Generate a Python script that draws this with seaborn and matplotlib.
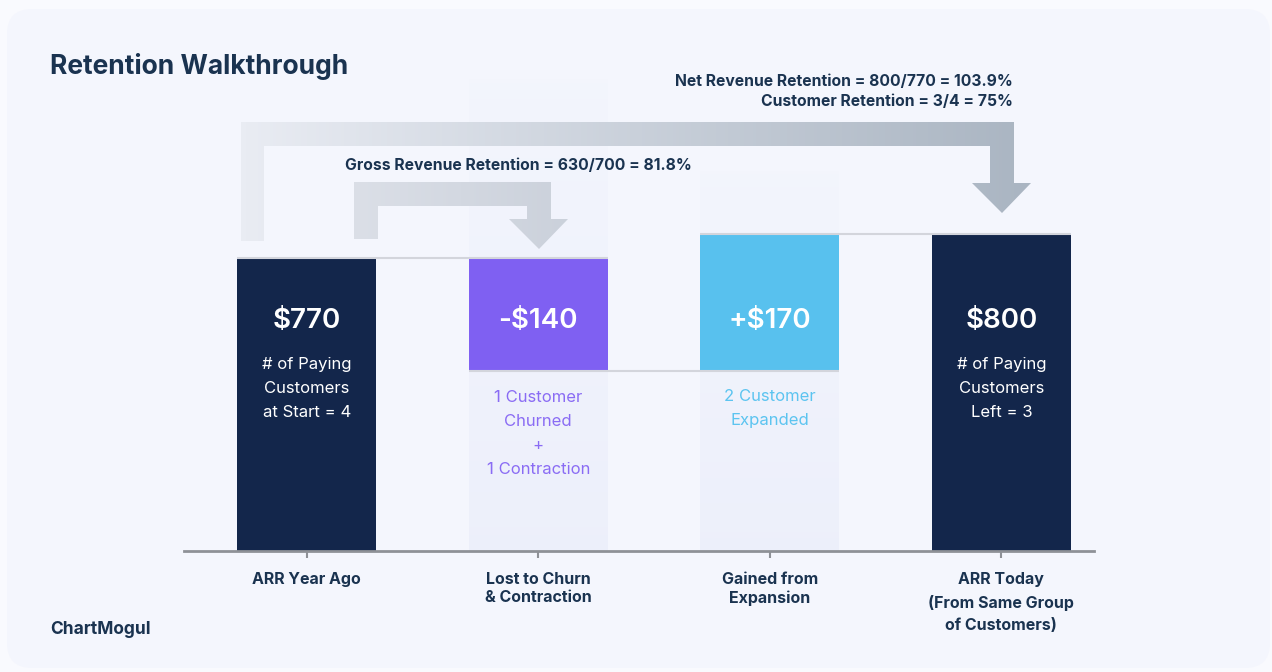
import numpy as np
import matplotlib
matplotlib.use("Agg")
import matplotlib.pyplot as plt
from matplotlib.colors import LinearSegmentedColormap, to_rgb
from matplotlib.patches import FancyBboxPatch, Polygon
import seaborn as sns

# data
categories = ["ARR Year Ago", "Lost to Churn\n& Contraction", "Gained from\nExpansion",
              "ARR Today\n(From Same Group\nof Customers)"]
arr_start = 770
changes = [-140, 170]
arr_end = 800
value_labels = ["$770", "-$140", "+$170", "$800"]
sub_labels = ["# of Paying\nCustomers\nat Start = 4",
              "1 Customer\nChurned\n+\n1 Contraction",
              "2 Customer\nExpanded",
              "# of Paying\nCustomers\nLeft = 3"]
net_lines = ["Net Revenue Retention = 800/770 = 103.9%", "Customer Retention = 3/4 = 75%"]
gross_line = "Gross Revenue Retention = 630/700 = 81.8%"

# waterfall geometry from the values
after_churn = arr_start + changes[0]
bottoms = [0, after_churn, after_churn, 0]
heights = [arr_start, -changes[0], changes[1], arr_end]

bar_colors = ["#13264B", "#7F60F2", "#58C1EE", "#13264B"]
sub_colors = ["white", "#8A6CF4", "#5CC4F0", "white"]
dark = "#1A3350"

sns.set_style("white")
plt.rcParams["font.family"] = ["Inter", "DejaVu Sans"]

W, H = 1272, 672
fig = plt.figure(figsize=(12.72, 6.72), dpi=100)
fig.patch.set_facecolor("#F9FAFE")

# card background
bg = fig.add_axes([0, 0, 1, 1], zorder=0)
bg.set_xlim(0, W)
bg.set_ylim(H, 0)
bg.axis("off")
bg.add_patch(FancyBboxPatch((32, 34), 1213, 609, boxstyle="round,pad=25",
                            fc="#F4F6FD", ec="none"))

# main chart
y_lo, y_hi = 406, 1090
ax = fig.add_axes([184 / W, (H - 551) / H, 910 / W, 551 / H], zorder=1)
ax.patch.set_alpha(0)

# faint ghost columns behind the change bars
ghost_tops = {1: 991, 2: 877}
for i, top in ghost_tops.items():
    n = 120
    rgba = np.zeros((n, 1, 4))
    rgba[..., :3] = to_rgb("#E4E8F8")
    rgba[..., 3] = np.linspace(0.06, 0.45, n)[:, None]
    ax.imshow(rgba, extent=(i - 0.3, i + 0.3, y_lo, top), aspect="auto", zorder=0.5)

sns.barplot(x=categories, y=heights, bottom=bottoms, width=0.6, color=bar_colors[0],
            saturation=1, ax=ax, zorder=2)
for patch, c in zip(ax.patches, bar_colors):
    patch.set_facecolor(c)
    patch.set_edgecolor("none")

# connector lines
levels = [arr_start, after_churn, arr_end]
for k, lvl in enumerate(levels):
    ax.hlines(lvl, k - 0.3, k + 1.3, color="#D3D5DC", lw=1.5, zorder=3)

for i in range(4):
    ax.text(i, 691, value_labels[i], ha="center", va="center", color="white",
            fontsize=20, weight="semibold", zorder=4)
sub_y = [608, 552, 583, 608]
for i in range(4):
    ax.text(i, sub_y[i], sub_labels[i], ha="center", va="center", color=sub_colors[i],
            fontsize=12, linespacing=1.75, zorder=4)

ax.set_xlim(-0.53, 3.40)
ax.set_ylim(y_lo, y_hi)
ax.set_yticks([])
ax.set_xlabel("")
ax.set_ylabel("")
for s in ["left", "right", "top"]:
    ax.spines[s].set_visible(False)
ax.spines["bottom"].set_color("#8E9197")
ax.spines["bottom"].set_linewidth(2)
ax.tick_params(axis="x", length=5, width=1.5, color="#8E9197", pad=10,
               labelsize=11.5, labelcolor=dark, bottom=True)
for lab in ax.get_xticklabels():
    lab.set_fontweight("bold")
    lab.set_linespacing(1.62 if lab.get_text().count("\n") > 1 else 1.3)

# overlay: arrows and annotations
fg = fig.add_axes([0, 0, 1, 1], zorder=3)
fg.patch.set_alpha(0)
fg.axis("off")


def grad_arrow(axis, pts, c0, c1):
    poly = Polygon(pts, closed=True, fc="none", ec="none")
    axis.add_patch(poly)
    xs = [p[0] for p in pts]
    ys = [p[1] for p in pts]
    cmap = LinearSegmentedColormap.from_list("g", [c0, c1])
    im = axis.imshow(np.linspace(0, 1, 256).reshape(1, -1), cmap=cmap,
                     extent=(min(xs), max(xs), max(ys), min(ys)),
                     aspect="auto", interpolation="bilinear")
    im.set_clip_path(poly)


big = [(241, 241), (241, 122), (1014, 122), (1014, 183), (1031, 183), (1002, 213),
       (972, 183), (990, 183), (990, 146), (264, 146), (264, 241)]
small = [(354, 239), (354, 182), (551, 182), (551, 219), (568, 219), (539, 249),
         (509, 219), (527, 219), (527, 206), (378, 206), (378, 239)]
grad_arrow(fg, big, "#E9ECF3", "#AAB5C2")
grad_arrow(fg, small, "#DBDFE7", "#CBD1DB")
fg.set_xlim(0, W)
fg.set_ylim(H, 0)

fg.text(50, 66, "Retention Walkthrough", fontsize=19, weight="bold", color=dark,
        va="center", ha="left")
fg.text(1013, 81, net_lines[0], fontsize=11.3, weight="bold", color=dark,
        ha="right", va="center")
fg.text(1013, 101, net_lines[1], fontsize=11.3, weight="bold", color=dark,
        ha="right", va="center")
fg.text(518, 165, gross_line, fontsize=11.3, weight="bold", color=dark,
        ha="center", va="center")
fg.text(50, 630, "ChartMogul", fontsize=12.5, weight="bold", color=dark,
        ha="left", va="center")

fig.savefig("out.png", dpi=100, facecolor=fig.get_facecolor())
